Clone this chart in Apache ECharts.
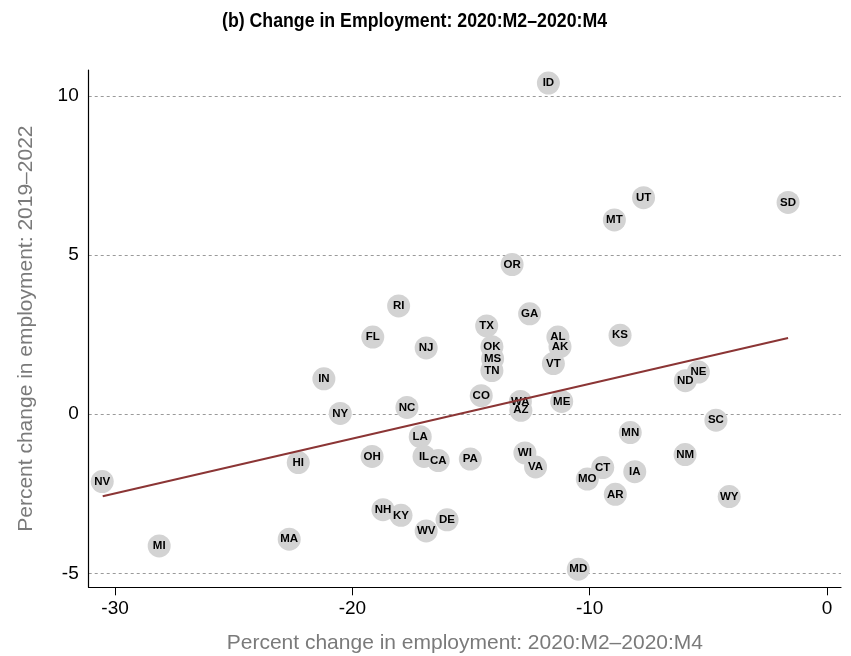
<!DOCTYPE html>
<html>
<head>
<meta charset="utf-8">
<script src="https://cdn.jsdelivr.net/npm/echarts@6/dist/echarts.min.js"></script>
<style>
  html, body { margin: 0; padding: 0; background: #fff; }
  #chart { width: 851px; height: 656px; }
</style>
</head>
<body>
<div id="chart"></div>
<script>
// State codes and their employment changes (percent)
const states = ['NV','MI','MA','HI','IN','NY','OH','NC','LA','IL','CA','PA','NH','KY','WV','DE',
  'CO','WA','AZ','ME','WI','VA','MS','TN','VT','MD','ID','OR','RI','GA','TX','FL','NJ','OK',
  'AL','AK','UT','MT','SD','KS','NE','ND','SC','MN','NM','CT','MO','IA','AR','WY'];
// Short-run change, 2020:M2–2020:M4
const shortRun = [-30.54,-28.14,-22.66,-22.28,-21.20,-20.51,-19.17,-17.70,-17.14,-16.98,-16.38,-15.03,-18.71,-17.95,-16.89,-16.01,
  -14.57,-12.92,-12.90,-11.18,-12.73,-12.28,-14.09,-14.12,-11.53,-10.48,-11.74,-13.27,-18.05,-12.53,-14.34,-19.14,-16.89,-14.12,
  -11.34,-11.25,-7.73,-8.96,-1.64,-8.72,-5.42,-5.97,-4.68,-8.29,-5.98,-9.45,-10.10,-8.10,-8.92,-4.12];
// Longer-run change, 2019–2022
const longRun = [-2.12,-4.14,-3.93,-1.52,1.11,0.02,-1.33,0.21,-0.71,-1.33,-1.46,-1.41,-3.00,-3.18,-3.67,-3.32,
  0.58,0.40,0.12,0.40,-1.22,-1.66,1.74,1.37,1.59,-4.87,10.40,4.70,3.40,3.15,2.77,2.42,2.08,2.12,
  2.42,2.12,6.80,6.10,6.65,2.48,1.32,1.05,-0.19,-0.58,-1.27,-1.68,-2.04,-1.81,-2.52,-2.59];
// Fitted line end points
const fitX = [-30.52, -1.64];
const fitY = [-2.58, 2.39];
// Tick values
const xTicks = [-30, -20, -10, 0];
const yTicks = [-5, 0, 5, 10];

const points = states.map((s, i) => ({ name: s, value: [shortRun[i], longRun[i]] }));
const fitLine = fitX.map((x, i) => [x, fitY[i]]);

// Title: bold sans squeezed horizontally to a narrow look
const titleText = '(b) Change in Employment: 2020:M2–2020:M4';
const titleFont = 'bold 21px "Liberation Sans", Arial, sans-serif';
const measureCtx = document.createElement('canvas').getContext('2d');
measureCtx.font = titleFont;
const titleWidth = measureCtx.measureText(titleText).width;
const titleScale = 385 / titleWidth;

const chart = echarts.init(document.getElementById('chart'), null, { renderer: 'canvas' });
const tickFont = { fontFamily: 'Liberation Sans, Arial, sans-serif', fontSize: 19, color: '#000' };
const nameFont = { fontFamily: 'Liberation Sans, Arial, sans-serif', fontSize: 21, color: '#7a7a7a' };

chart.setOption({
  animation: false,
  backgroundColor: '#fff',
  graphic: [{
    type: 'text',
    x: 414.5, y: 21,
    scaleX: titleScale,
    style: {
      text: titleText,
      font: titleFont,
      fill: '#000',
      align: 'center',
      verticalAlign: 'middle'
    }
  }],
  grid: { left: 88.7, right: 10, top: 70, bottom: 68.7, containLabel: false, outerBoundsMode: 'none' },
  xAxis: {
    type: 'value', min: -31.11, max: 0.59,
    name: 'Percent change in employment: 2020:M2–2020:M4',
    nameLocation: 'middle', nameGap: 45, nameTextStyle: nameFont,
    axisLine: { show: true, onZero: false, lineStyle: { color: '#000', width: 1.2 } },
    axisTick: { show: true, length: 8, lineStyle: { color: '#000' }, customValues: xTicks },
    axisLabel: Object.assign({ margin: 12, customValues: xTicks }, tickFont),
    splitLine: { show: false }
  },
  yAxis: {
    type: 'value', min: -5.44, max: 10.81,
    name: 'Percent change in employment: 2019–2022',
    nameLocation: 'middle', nameGap: 52, nameTextStyle: nameFont,
    axisLine: { show: true, onZero: false, lineStyle: { color: '#000', width: 1.2 } },
    axisTick: { show: false, customValues: yTicks },
    axisLabel: Object.assign({ margin: 10, customValues: yTicks }, tickFont),
    splitLine: { show: true, lineStyle: { color: '#9a9a9a', type: [3, 3], width: 1 } }
  },
  series: [
    {
      type: 'scatter',
      data: points,
      symbolSize: 23,
      itemStyle: { color: '#d3d3d3', opacity: 1 },
      label: {
        show: true, position: 'inside', formatter: '{b}',
        fontFamily: 'Liberation Sans, Arial, sans-serif', fontWeight: 'bold', fontSize: 11.5, color: '#000'
      },
      z: 2
    },
    {
      type: 'line',
      data: fitLine,
      symbol: 'none',
      lineStyle: { color: '#8b3535', width: 2 },
      z: 3
    }
  ]
});
</script>
</body>
</html>
